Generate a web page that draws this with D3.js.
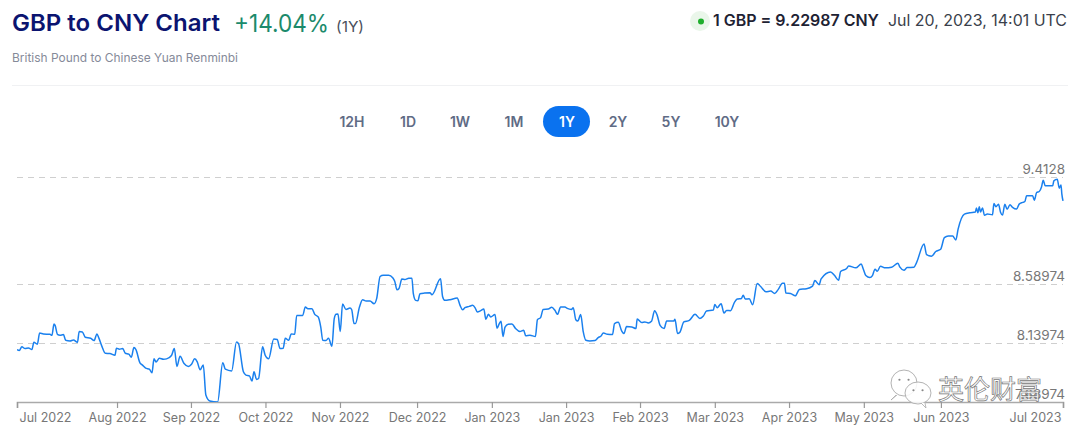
<!DOCTYPE html>
<html><head><meta charset="utf-8">
<script src="https://cdn.jsdelivr.net/npm/d3@7/dist/d3.min.js"></script>
<style>html,body{margin:0;padding:0;background:#fff}svg{display:block;font-family:Inter,"Noto Sans",sans-serif}</style>
</head><body><svg id="c" width="1076" height="436"></svg>
<script>
const startDate = Date.UTC(2022,6,20);
const days = [0,0.8,1.7,2.8,4,5.2,5.9,7.1,7.9,9.2,11.5,12.2,12.9,13.3,14.1,15,16.2,17,18.5,19.7,21.1,21.7,22.8,23.8,25.7,26.9,27.9,28.5,29.7,30.8,32.4,34.2,34.7,35.7,36.9,37.8,39,39.9,40.8,41.5,42.9,43.8,44.9,46.2,47.1,47.8,48.5,49.7,51.1,52.2,53.9,54.9,55.8,56.9,58.3,59.8,60.9,62,62.9,63.9,65,65.9,67.3,70,71.8,72.7,74.9,76.6,77.3,79,79.9,81.1,82,82.7,83.6,84.3,85.7,86.6,87.8,89.6,90.8,91.8,92.9,93.6,94.8,95.7,96.9,97.6,99.7,100.6,101.5,102.9,103.9,105.1,106,106.7,107.8,108.7,109.9,110.7,111.3,112,112.8,113.6,114.8,116.2,116.8,117.6,118.1,119.5,120.6,121.8,123.2,124.6,125.5,126.7,127.8,129.7,131.1,131.8,132.6,133.3,134.3,135.4,136.7,137.8,138.3,139.1,139.9,140.6,142.2,144.1,144.8,147.8,148.5,149.3,151.1,153.6,154.6,155.5,156.3,157.8,159,159.9,160.6,161.8,162.9,163.6,164.5,165.3,166.8,167.5,168.3,168.9,169.6,170.3,171.4,172.7,174,175.5,176.8,177.5,179,180.9,181.6,182.7,183.6,185.4,186.6,187.7,188.6,189.7,191.2,192,193.5,194.1,195,195.7,196.7,197.6,198.5,199.9,201.7,202.8,203.7,204.6,206,207.8,208.5,209.8,211,211.8,212.7,214.5,216,216.4,218,219.1,220.3,221.4,222.5,223.4,224.4,225.8,226.7,229.2,229.6,230.5,231.3,232.7,234.6,236.6,238.3,239.5,240.6,243,243.5,244.3,245.7,246.7,247.6,249,250.4,251.3,252.8,253.4,254.1,255.5,256.7,258.3,259.5,261.3,263,264.4,265.7,267.1,267.8,268.3,269.9,271.6,273,275.5,277.6,278.4,279.9,280.6,283.9,285.3,286.7,287.4,289.5,290.2,292.7,294.6,295.3,296.2,297.6,298.5,299.4,300.2,301.3,303,305.2,307.4,308.1,309.5,310.6,313,313.9,316.5,317.4,319.1,320.6,322.3,323.6,325,326.5,327.6,328.4,330.6,332.5,334.4,334.8,335.3,335.8,336.2,336.9,337.6,338.6,340.4,340.9,341.6,342.5,343.2,343.9,344.7,345.5,346.5,347.4,348.8,349.7,350.9,351.7,352.3,354.4,355,355.8,356.7,357.5,358.1,358.8,361.4,361.8,363,363.7,364.3,364.6,365];
const rates = [8.091,8.084,8.112,8.099,8.104,8.091,8.147,8.132,8.218,8.211,8.208,8.201,8.287,8.277,8.208,8.201,8.206,8.162,8.157,8.165,8.147,8.229,8.226,8.186,8.178,8.16,8.211,8.183,8.112,8.063,8.061,8.048,8.102,8.094,8.099,8.063,8.056,8.033,8.107,8.091,7.99,7.972,7.949,7.941,7.913,8.02,7.997,8.025,8.017,8.02,8.046,8.099,7.962,8.04,7.984,7.962,7.979,8.02,7.997,7.936,7.974,7.743,7.697,7.69,7.99,7.941,7.928,8.15,8.137,7.921,7.896,7.89,7.85,7.921,7.863,7.87,8.112,8.048,8.02,8.173,8.168,8.099,8.102,8.178,8.162,8.211,8.208,8.353,8.353,8.417,8.404,8.404,8.361,8.341,8.264,8.162,8.16,8.178,8.117,8.328,8.361,8.363,8.229,8.44,8.399,8.409,8.396,8.29,8.29,8.417,8.473,8.463,8.463,8.442,8.481,8.651,8.661,8.661,8.641,8.615,8.549,8.559,8.631,8.628,8.638,8.638,8.519,8.468,8.465,8.519,8.524,8.526,8.511,8.633,8.498,8.468,8.473,8.486,8.43,8.396,8.412,8.422,8.43,8.409,8.379,8.389,8.402,8.323,8.361,8.341,8.359,8.254,8.29,8.308,8.191,8.264,8.285,8.287,8.252,8.229,8.239,8.198,8.201,8.191,8.32,8.336,8.399,8.402,8.415,8.392,8.361,8.417,8.417,8.407,8.399,8.412,8.32,8.31,8.359,8.226,8.162,8.157,8.16,8.183,8.193,8.218,8.208,8.206,8.29,8.3,8.234,8.214,8.267,8.264,8.252,8.326,8.298,8.303,8.295,8.308,8.389,8.353,8.277,8.252,8.31,8.31,8.323,8.214,8.224,8.303,8.315,8.361,8.33,8.348,8.386,8.394,8.437,8.412,8.442,8.371,8.391,8.389,8.455,8.478,8.483,8.508,8.478,8.48,8.435,8.597,8.574,8.534,8.539,8.521,8.554,8.6,8.6,8.524,8.521,8.503,8.552,8.557,8.577,8.62,8.587,8.633,8.686,8.658,8.623,8.689,8.712,8.732,8.717,8.747,8.709,8.658,8.643,8.658,8.707,8.691,8.729,8.717,8.722,8.752,8.722,8.699,8.719,8.722,8.757,8.9,8.819,8.806,8.842,8.859,8.948,8.961,8.961,8.93,9.014,9.129,9.139,9.144,9.175,9.139,9.185,9.144,9.175,9.119,9.129,9.124,9.21,9.185,9.205,9.142,9.121,9.205,9.165,9.2,9.18,9.167,9.205,9.218,9.225,9.269,9.269,9.235,9.294,9.302,9.337,9.388,9.345,9.345,9.383,9.396,9.327,9.352,9.281,9.22987];
const tickDays = [0,34.9,60.7,86.7,112.7,139.6,165.7,191.6,217.4,243.5,269.4,295.5,322.4,365];
const tickLabels = ["Jul 2022","Aug 2022","Sep 2022","Oct 2022","Nov 2022","Dec 2022","Jan 2023","Jan 2023","Feb 2023","Mar 2023","Apr 2023","May 2023","Jun 2023","Jul 2023"];
const gridValues = [9.4128,8.58974,8.13974,7.68974];
const gridLabels = ["9.4128","8.58974","8.13974","7.68974"];
const ranges = ["12H","1D","1W","1M","1Y","2Y","5Y","10Y"];
const activeRange = "1Y";

const toDate = d => new Date(startDate + d*864e5);
const svg = d3.select("#c");
const x = d3.scaleUtc().domain([toDate(0),toDate(365)]).range([17,1063]);
const y = d3.scaleLinear().domain([7.68974,9.4128]).range([402,177]);

// header
const T = (px,py,s,o={}) => svg.append("text").attr("x",px).attr("y",py).text(s)
  .attr("font-size",o.size||14).attr("font-weight",o.w||400).attr("fill",o.c||"#333")
  .attr("text-anchor",o.a||"start").attr("textLength",o.len||null).attr("lengthAdjust",o.len?"spacingAndGlyphs":null);
T(12,31,"GBP to CNY Chart",{size:23.5,w:600,c:"#0b1470",len:208});
T(234,32,"+14.04%",{size:24,c:"#1b8a6b",len:95});
T(336,32,"(1Y)",{size:15,c:"#4a4f5c",len:28});
T(12,62,"British Pound to Chinese Yuan Renminbi",{size:12,c:"#858a99",len:226});
svg.append("circle").attr("cx",700).attr("cy",21).attr("r",10).attr("fill","#eaf6ea");
svg.append("circle").attr("cx",701).attr("cy",21.5).attr("r",3).attr("fill","#1fae2d");
T(713,26,"1 GBP = 9.22987 CNY",{size:15.5,w:600,c:"#1e2233",len:166});
T(888,26,"Jul 20, 2023, 14:01 UTC",{size:15.5,c:"#3a3f4b",len:179});
svg.append("line").attr("x1",12).attr("x2",1068).attr("y1",85.5).attr("y2",85.5).attr("stroke","#f0f1f3");

// range buttons
const centres = [352,408,460,514,567,618,671,727];
ranges.forEach((r,i)=>{
  if(r===activeRange) svg.append("rect").attr("x",centres[i]-24).attr("y",106).attr("width",47).attr("height",31).attr("rx",15.5).attr("fill","#0a72ef");
  T(centres[i],127,r,{size:14,w:600,a:"middle",c:r===activeRange?"#fff":"#5f6b85"});
});

// grid
svg.append("g").selectAll("line").data(gridValues.slice(0,3)).join("line")
  .attr("x1",17).attr("x2",1063).attr("y1",d=>Math.round(y(d))+.5).attr("y2",d=>Math.round(y(d))+.5)
  .attr("stroke","#cfcfcf").attr("stroke-dasharray","6 5");
svg.append("g").selectAll("text").data(gridValues).join("text")
  .attr("x",1065).attr("y",d=>y(d)-3).attr("text-anchor","end").attr("font-size",13.5).attr("fill","#777")
  .text((d,i)=>gridLabels[i]);

// axis
const ax = svg.append("g").attr("transform","translate(0,402)")
  .call(d3.axisBottom(x).tickValues(tickDays.map(toDate)).tickSize(6).tickPadding(5).tickFormat((d,i)=>tickLabels[i]));
ax.select(".domain").attr("stroke","#aaa").attr("stroke-width",1.6);
ax.selectAll(".tick line").attr("stroke","#999").attr("stroke-width",1.2);
ax.selectAll("text").attr("font-size",12.5).attr("fill","#777").attr("font-family",'Inter,"Noto Sans",sans-serif');
ax.selectAll(".tick text").attr("dx",(d,i)=> i===0?28 : i===tickLabels.length-1?-28 : 0);

// line
const pts = days.map((d,i)=>[toDate(d),rates[i]]);
svg.append("clipPath").attr("id","pl").append("rect").attr("x",17).attr("y",150).attr("width",1048).attr("height",252);
svg.append("path").datum(pts).attr("clip-path","url(#pl)")
  .attr("fill","none").attr("stroke","#1a80ee").attr("stroke-width",1.5).attr("stroke-linejoin","round")
  .attr("d",d3.line().x(d=>x(d[0])).y(d=>y(d[1])).curve(d3.curveMonotoneX));

// watermark
const wm = svg.append("g");
const bubble = (cx,cy,rx,ry,tx) => {
  wm.append("ellipse").attr("cx",cx).attr("cy",cy).attr("rx",rx).attr("ry",ry).attr("fill","#fff").attr("fill-opacity",.85).attr("stroke","#aaa").attr("stroke-width",.9);
  wm.append("circle").attr("cx",cx-rx*.35).attr("cy",cy-ry*.25).attr("r",1.1).attr("fill","#888");
  wm.append("circle").attr("cx",cx+rx*.35).attr("cy",cy-ry*.25).attr("r",1.1).attr("fill","#888");
  wm.append("path").attr("d",`M${cx+tx-3},${cy+ry-1}l${tx>0?5:-5},5l${tx>0?-1:6},-5`).attr("fill","#fff").attr("stroke","#aaa").attr("stroke-width",.8);
};
bubble(904,383,13,13,-5);
bubble(918,393,13,11,6);
svg.append("text").attr("x",938).attr("y",399).text("英伦财富").attr("font-size",26)
  .attr("font-family",'"Noto Sans CJK SC"').attr("fill","#fff").attr("fill-opacity",.85).attr("stroke","#777").attr("stroke-width",.7);
</script></body></html>
